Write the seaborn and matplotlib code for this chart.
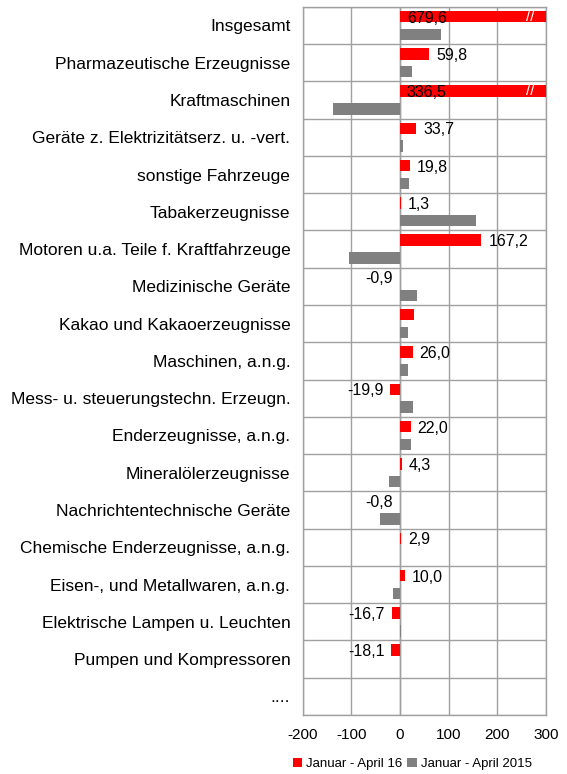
import matplotlib
matplotlib.use("Agg")
import matplotlib.pyplot as plt
import numpy as np
import pandas as pd
import seaborn as sns
from matplotlib.patches import Patch

# Data
categories = [
    "Insgesamt", "Pharmazeutische Erzeugnisse", "Kraftmaschinen",
    "Geräte z. Elektrizitätserz. u. -vert.", "sonstige Fahrzeuge",
    "Tabakerzeugnisse", "Motoren u.a. Teile f. Kraftfahrzeuge",
    "Medizinische Geräte", "Kakao und Kakaoerzeugnisse", "Maschinen, a.n.g.",
    "Mess- u. steuerungstechn. Erzeugn.", "Enderzeugnisse, a.n.g.",
    "Mineralölerzeugnisse", "Nachrichtentechnische Geräte",
    "Chemische Enderzeugnisse, a.n.g.", "Eisen-, und Metallwaren, a.n.g.",
    "Elektrische Lampen u. Leuchten", "Pumpen und Kompressoren", "....",
]
values_2016 = [679.6, 59.8, 336.5, 33.7, 19.8, 1.3, 167.2, -0.9, 29.0, 26.0,
               -19.9, 22.0, 4.3, -0.8, 2.9, 10.0, -16.7, -18.1, np.nan]
values_2015 = [85, 25, -138, 7, 18, 157, -104, 35, 16, 16,
               26, 22, -22, -41, -1, -14, 1, -1, np.nan]
unlabelled = ["Kakao und Kakaoerzeugnisse", "...."]
series = ["Januar - April 16", "Januar - April 2015"]
colors = ["#ff0000", "#808080"]

df = pd.DataFrame({
    "cat": categories * 2,
    "series": [series[0]] * len(categories) + [series[1]] * len(categories),
    "value": values_2016 + values_2015,
})

plt.rcParams["font.family"] = ["Liberation Sans", "DejaVu Sans"]
plt.rcParams["axes.unicode_minus"] = False
fig = plt.figure(figsize=(5.67, 7.74), dpi=100)
ax = fig.add_axes([0.534, 0.0762, 0.429, 0.915])

sns.barplot(data=df, y="cat", x="value", hue="series", order=categories,
            hue_order=series, palette=colors, saturation=1, orient="h",
            width=0.96, gap=0.36, dodge=True, legend=False, errorbar=None,
            ax=ax, zorder=3)

xmax = 300
ax.set_xlim(-200, xmax)
ax.set_ylim(len(categories) - 0.5, -0.5)
ax.set_xticks(range(-200, 301, 100))
ax.set_yticks(range(len(categories)))
ax.set_yticklabels(categories)
ax.set_yticks(np.arange(-0.5, len(categories), 1), minor=True)
ax.grid(axis="x", which="major", color="#a0a0a0", linewidth=1)
ax.grid(axis="y", which="minor", color="#a0a0a0", linewidth=1)
ax.set_axisbelow(True)
ax.tick_params(axis="both", which="both", length=0)
ax.tick_params(axis="y", pad=9, labelsize=12.5)
ax.tick_params(axis="x", pad=9, labelsize=11)
ax.set_xlabel("")
ax.set_ylabel("")
for s in ax.spines.values():
    s.set_color("#a0a0a0")
    s.set_linewidth(1)
ax.axvline(0, color="#a0a0a0", linewidth=1, zorder=2)

# value labels for the 2016 series
for i, (cat, v) in enumerate(zip(categories, values_2016)):
    if cat in unlabelled or np.isnan(v):
        continue
    txt = f"{v:.1f}".replace(".", ",")
    y = i - 0.24
    if v > xmax:
        ax.text(14, y, txt, va="center_baseline", ha="left", fontsize=11.5,
                zorder=5)
        ax.text(267, y, "//", va="center", ha="center", color="white",
                fontsize=11, zorder=5)
    elif v >= 0:
        ax.annotate(txt, (v, y), xytext=(5, 0), textcoords="offset points",
                    va="center_baseline", ha="left", fontsize=11.5)
    else:
        ax.annotate(txt, (v, y), xytext=(-5, 0), textcoords="offset points",
                    va="center_baseline", ha="right", fontsize=11.5)

handles = [Patch(facecolor=c, edgecolor="none") for c in colors]
fig.legend(handles, series, loc="center", bbox_to_anchor=(0.727, 0.013),
           ncol=2, frameon=False, fontsize=9.5, handlelength=0.7,
           handleheight=0.7, handletextpad=0.3, columnspacing=0.4)

fig.savefig("out.png", dpi=100)
